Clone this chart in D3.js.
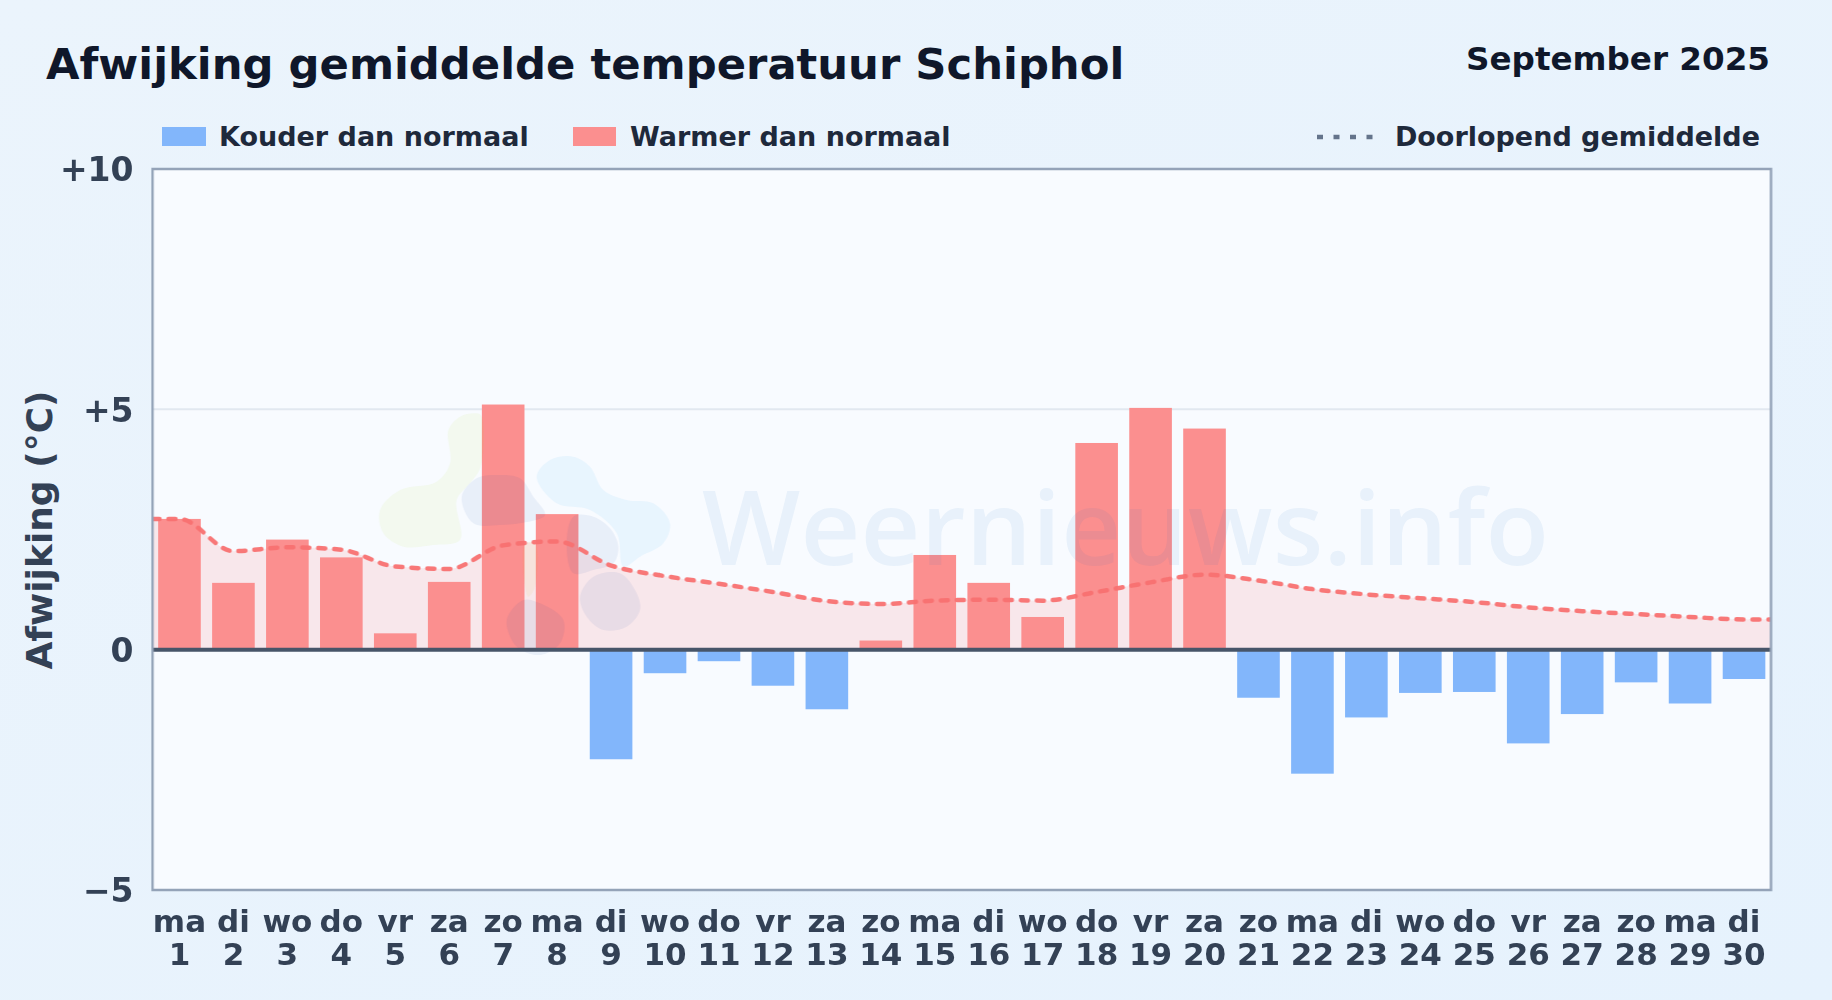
<!DOCTYPE html>
<html>
<head>
<meta charset="utf-8">
<title>Afwijking gemiddelde temperatuur Schiphol</title>
<script src="https://cdn.jsdelivr.net/npm/d3@7"></script>
<style>
  html, body { margin: 0; padding: 0; background: #e8f3fc; }
  svg { display: block; }
  text { font-family: "DejaVu Sans", sans-serif; font-weight: bold; }
</style>
</head>
<body>
<svg id="chart" width="1832" height="1000"></svg>
<script>
// Data
const days = d3.range(1, 31).map(String);
const weekdays = ["ma","di","wo","do","vr","za","zo","ma","di","wo","do","vr","za","zo","ma","di","wo","do","vr","za","zo","ma","di","wo","do","vr","za","zo","ma","di"];
const anomaly = [2.72,1.39,2.29,1.92,0.34,1.41,5.10,2.82,-2.28,-0.49,-0.24,-0.75,-1.24,0.19,1.97,1.39,0.68,4.30,5.03,4.60,-1.00,-2.58,-1.41,-0.90,-0.88,-1.95,-1.34,-0.68,-1.12,-0.61];
const runningMean = [2.72,2.05,2.13,2.08,1.73,1.68,2.17,2.25,1.75,1.53,1.37,1.20,1.01,0.95,1.02,1.04,1.02,1.20,1.40,1.56,1.44,1.26,1.15,1.07,0.99,0.88,0.80,0.74,0.68,0.63];
const yTicks = [-5, 0, 5, 10];
const yLabels = ["−5", "0", "+5", "+10"];

// Global Config
const margin = { top: 169, right: 61, bottom: 110, left: 152.5 };
const colors = {
    warm: "#fb8f8f", cold: "#82b6fb", mean: "#f87171", ink: "#0f172a", legend: "#1e293b",
    axis: "#334155", border: "#94a3b8", grid: "#e2e8f0", zero: "#475569"
};

const svg = d3.select("#chart");
const width = 1832 - margin.left - margin.right;
const height = 1000 - margin.top - margin.bottom;

// Background
const bg = svg.append("defs").append("linearGradient").attr("id", "bg")
    .attr("x1", 0).attr("y1", 0).attr("x2", 1).attr("y2", 1);
bg.append("stop").attr("offset", 0).attr("stop-color", "#ebf4fc");
bg.append("stop").attr("offset", 1).attr("stop-color", "#e6f2fd");
svg.append("rect").attr("width", 1832).attr("height", 1000).attr("fill", "url(#bg)");

// Title
svg.append("text").attr("x", 46).attr("y", 79).attr("fill", colors.ink)
    .style("font-size", "43.3px")
    .text("Afwijking gemiddelde temperatuur Schiphol");
svg.append("text").attr("x", 1770).attr("y", 70).attr("fill", colors.ink)
    .attr("text-anchor", "end").style("font-size", "32.6px")
    .text("September 2025");

const g = svg.append("g").attr("transform", `translate(${margin.left},${margin.top})`);

// Scales
const x = d3.scaleBand().domain(days).range([0, width]).paddingInner(0.21).paddingOuter(0.105);
const y = d3.scaleLinear().domain([-5, 10]).range([height, 0]);

g.append("rect").attr("width", width).attr("height", height).attr("fill", "#f8fbff");

g.append("clipPath").attr("id", "plotClip").append("rect").attr("width", width).attr("height", height);
const plot = g.append("g").attr("clip-path", "url(#plotClip)");

// Grid
plot.selectAll(".grid").data(yTicks.filter(d => d === 5)).enter().append("line")
    .attr("x1", 0).attr("x2", width)
    .attr("y1", d => y(d)).attr("y2", d => y(d))
    .attr("stroke", colors.grid).attr("stroke-width", 2);

// Running mean, carried flat to both plot edges
const meanPoints = runningMean.map((v, i) => ({ px: x(days[i]) + x.bandwidth() / 2, v: v }));
meanPoints.unshift({ px: 0, v: runningMean[0] });
meanPoints.push({ px: width, v: runningMean[runningMean.length - 1] });

plot.append("path").datum(meanPoints)
    .attr("fill", colors.mean).attr("fill-opacity", 0.14)
    .attr("d", d3.area().curve(d3.curveMonotoneX).x(d => d.px).y0(y(0)).y1(d => y(d.v)));

// Bars
plot.selectAll(".bar").data(anomaly).enter().append("rect")
    .attr("x", (d, i) => x(days[i]))
    .attr("width", x.bandwidth())
    .attr("y", d => y(Math.max(d, 0)))
    .attr("height", d => Math.abs(y(d) - y(0)))
    .attr("fill", d => d >= 0 ? colors.warm : colors.cold);

// Watermark logo + text, laid faintly over the bars
const blobLine = d3.line().curve(d3.curveCatmullRomClosed);
const blobs = [
    { fill: "rgb(171,220,0)", pts: [[265,90],[300,50],[340,40],[362,45],[362,200],[330,250],[290,300],[300,420],[220,435],[130,440],[70,400],[60,330],[120,270],[230,245],[270,190]] },
    { fill: "rgb(2,159,240)", pts: [[530,230],[570,180],[640,170],[690,200],[730,270],[800,300],[880,310],[930,370],[910,430],[840,470],[790,500],[770,400],[690,330],[590,310]] },
    { fill: "rgb(0,66,163)", pts: [[305,290],[350,235],[420,225],[480,235],[520,290],[555,345],[480,370],[420,375],[340,370]] },
    { fill: "rgb(0,66,163)", pts: [[640,350],[700,350],[750,385],[775,440],[760,490],[700,510],[640,520],[620,430]] },
    { fill: "rgb(0,66,163)", pts: [[660,590],[700,530],[780,520],[830,580],[840,630],[800,680],[730,690],[680,650]] },
    { fill: "rgb(0,66,163)", pts: [[440,660],[490,600],[540,610],[610,660],[600,730],[540,765],[470,740]] },
    { fill: "rgb(217,174,0)", pts: [[495,430],[525,430],[525,560],[505,590],[495,560]] }
];
const watermark = plot.append("g").attr("opacity", 0.065);
watermark.append("g")
    .attr("transform", `translate(${360 - margin.left},${400 - margin.top}) scale(${1 / 3})`)
    .selectAll("path").data(blobs).enter().append("path")
    .attr("d", d => blobLine(d.pts)).attr("fill", d => d.fill);
watermark.append("text")
    .attr("x", 702 - margin.left).attr("y", 565 - margin.top)
    .attr("fill", "rgb(0,105,190)")
    .attr("textLength", 847)
    .style("font-family", "'Open Sans', sans-serif")
    .style("font-weight", "600")
    .style("font-size", "104px")
    .text("Weernieuws.info");

plot.append("path").datum(meanPoints)
    .attr("fill", "none")
    .attr("stroke", colors.mean).attr("stroke-opacity", 0.95)
    .attr("stroke-width", 4.5).attr("stroke-linecap", "round")
    .attr("stroke-dasharray", "7 9")
    .attr("d", d3.line().curve(d3.curveMonotoneX).x(d => d.px).y(d => y(d.v)));

// Zero line + frame
g.append("line").attr("x1", 0).attr("x2", width).attr("y1", y(0)).attr("y2", y(0))
    .attr("stroke", colors.zero).attr("stroke-width", 4);
g.append("rect").attr("width", width).attr("height", height)
    .attr("fill", "none").attr("stroke", colors.border).attr("stroke-width", 2.5);

// Axes
const yAxis = g.append("g")
    .call(d3.axisLeft(y).tickValues(yTicks).tickSize(0).tickPadding(19)
        .tickFormat(d => yLabels[yTicks.indexOf(d)]));
yAxis.select(".domain").remove();
yAxis.selectAll("text").attr("fill", colors.axis).style("font-size", "33px")
    .attr("dy", "0.36em");

const xAxis = g.append("g").attr("transform", `translate(0,${height})`)
    .call(d3.axisBottom(x).tickSize(0).tickFormat(() => ""));
xAxis.select(".domain").remove();
xAxis.selectAll(".tick text").each(function (d, i) {
    const t = d3.select(this).attr("y", 0).attr("dy", null)
        .attr("fill", colors.axis).style("font-size", "31px");
    t.append("tspan").attr("x", 0).attr("y", 42).text(weekdays[i]);
    t.append("tspan").attr("x", 0).attr("y", 75).text(d);
});

svg.append("text").attr("transform", "translate(52,530) rotate(-90)")
    .attr("text-anchor", "middle").attr("fill", colors.axis)
    .style("font-size", "36px").text("Afwijking (°C)");

// Legend
const legendRows = [
    { label: "Kouder dan normaal", color: colors.cold, sx: 162, sw: 44, tx: 219 },
    { label: "Warmer dan normaal", color: colors.warm, sx: 573, sw: 43, tx: 630 }
];
const legend = svg.selectAll(".legend").data(legendRows).enter().append("g");
legend.append("rect").attr("x", d => d.sx).attr("y", 127).attr("width", d => d.sw).attr("height", 19)
    .attr("fill", d => d.color);
legend.append("text").attr("x", d => d.tx).attr("y", 146).attr("fill", colors.legend)
    .style("font-size", "27px").text(d => d.label);

svg.append("line").attr("x1", 1317).attr("x2", 1375).attr("y1", 137).attr("y2", 137)
    .attr("stroke", "#64748b").attr("stroke-width", 4.5).attr("stroke-dasharray", "6 10.5");
svg.append("text").attr("x", 1760).attr("y", 146).attr("text-anchor", "end").attr("fill", colors.legend)
    .style("font-size", "27px").text("Doorlopend gemiddelde");
</script>
</body>
</html>
